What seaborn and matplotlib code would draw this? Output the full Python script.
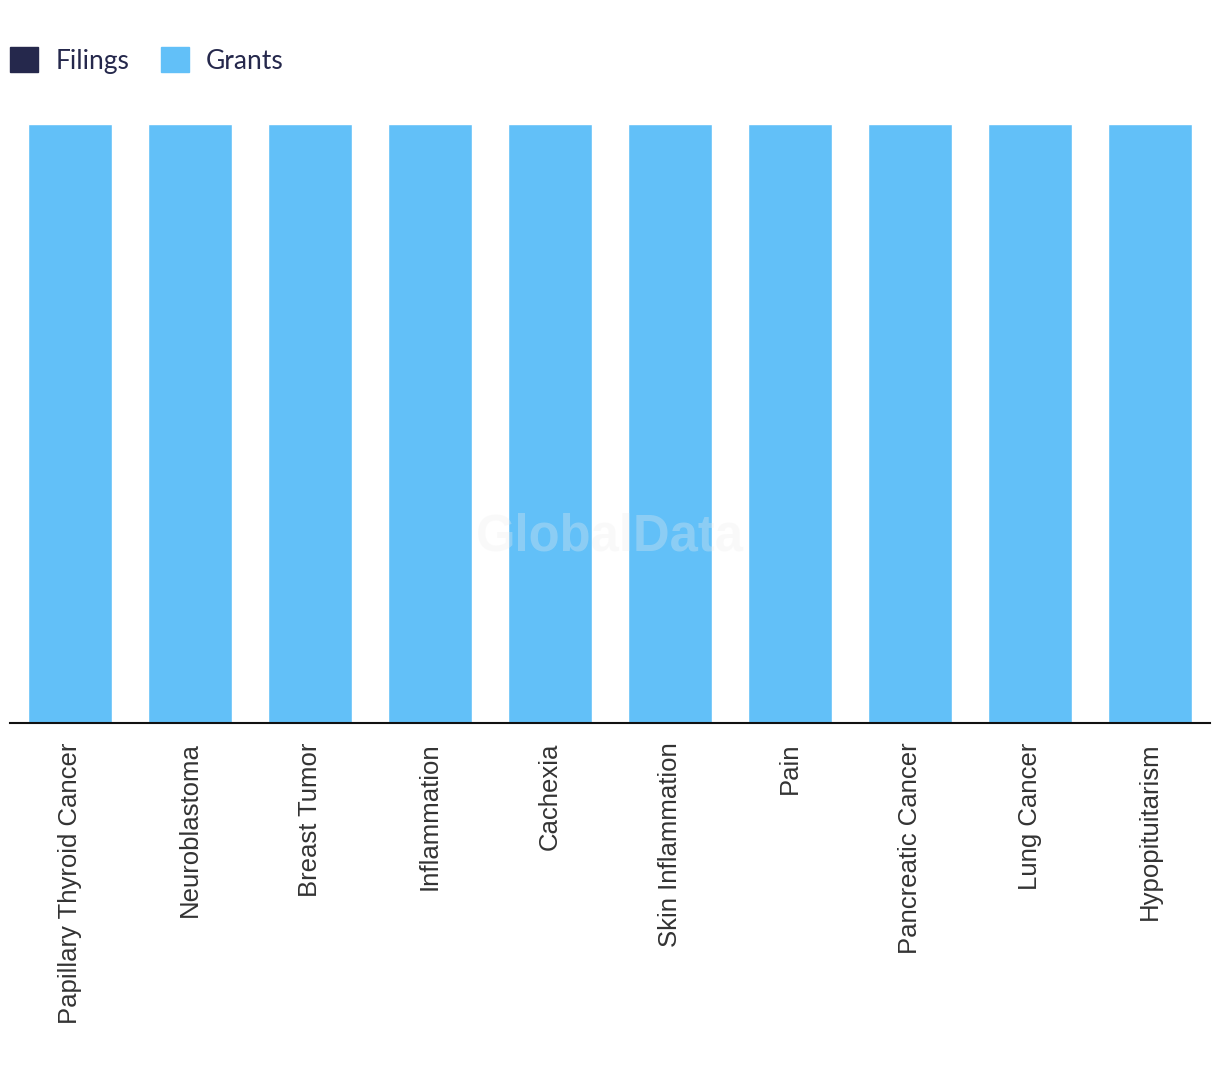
import matplotlib
matplotlib.use("Agg")
import matplotlib.pyplot as plt
import matplotlib.patches as mpatches
import seaborn as sns
import pandas as pd

# Dados do gráfico
categorias = ["Papillary Thyroid Cancer", "Neuroblastoma", "Breast Tumor", "Inflammation",
              "Cachexia", "Skin Inflammation", "Pain", "Pancreatic Cancer", "Lung Cancer",
              "Hypopituitarism"]
filings = [0, 0, 0, 0, 0, 0, 0, 0, 0, 0]
grants = [1, 1, 1, 1, 1, 1, 1, 1, 1, 1]

cor_filings = "#25284c"
cor_grants = "#62c0f8"

df = pd.DataFrame({"categoria": categorias, "Filings": filings, "Grants": grants})

sns.set_style("white")
plt.rcParams["font.family"] = ["Liberation Sans", "DejaVu Sans"]

fig = plt.figure(figsize=(12.2, 10.72), dpi=100)
ax = fig.add_axes([10 / 1220, (1072 - 723) / 1072, 1200 / 1220, (723 - 124) / 1072])

sns.barplot(data=df, x="categoria", y="Filings", color=cor_filings, width=0.7,
            saturation=1, ax=ax)
sns.barplot(data=df, x="categoria", y="Grants", color=cor_grants, width=0.7,
            saturation=1, bottom=df["Filings"], ax=ax)

ax.set_ylim(0, 1)
ax.set_xlim(-0.5, len(categorias) - 0.5)
ax.set_xlabel("")
ax.set_ylabel("")
ax.set_yticks([])
for lado in ["top", "right", "left"]:
    ax.spines[lado].set_visible(False)
ax.spines["bottom"].set_color("#111111")
ax.spines["bottom"].set_linewidth(1.5)
ax.tick_params(axis="x", length=0, pad=14)
ax.set_xticks(range(len(categorias)))
ax.set_xticklabels(categorias, rotation=90, fontsize=18.5, color="#333333", va="top")

# Marca d'água
fig.text(610 / 1220, 1 - 537 / 1072, "GlobalData", ha="center", va="center",
         fontsize=36.5, fontweight="bold", color="#eeeeee", alpha=0.3,
         family=["Liberation Sans", "DejaVu Sans"])

# Legenda
handles = [mpatches.Patch(color=cor_filings, label="Filings"),
           mpatches.Patch(color=cor_grants, label="Grants")]
fig.legend(handles=handles, loc="upper left", bbox_to_anchor=(-0.011, 0.978), ncol=2,
           frameon=False, handlelength=1.06, handleheight=1.06,
           handletextpad=0.64, columnspacing=1.2, labelcolor="#25284c",
           prop={"family": ["Lato", "DejaVu Sans"], "size": 19})

fig.savefig("out.png", dpi=100)
